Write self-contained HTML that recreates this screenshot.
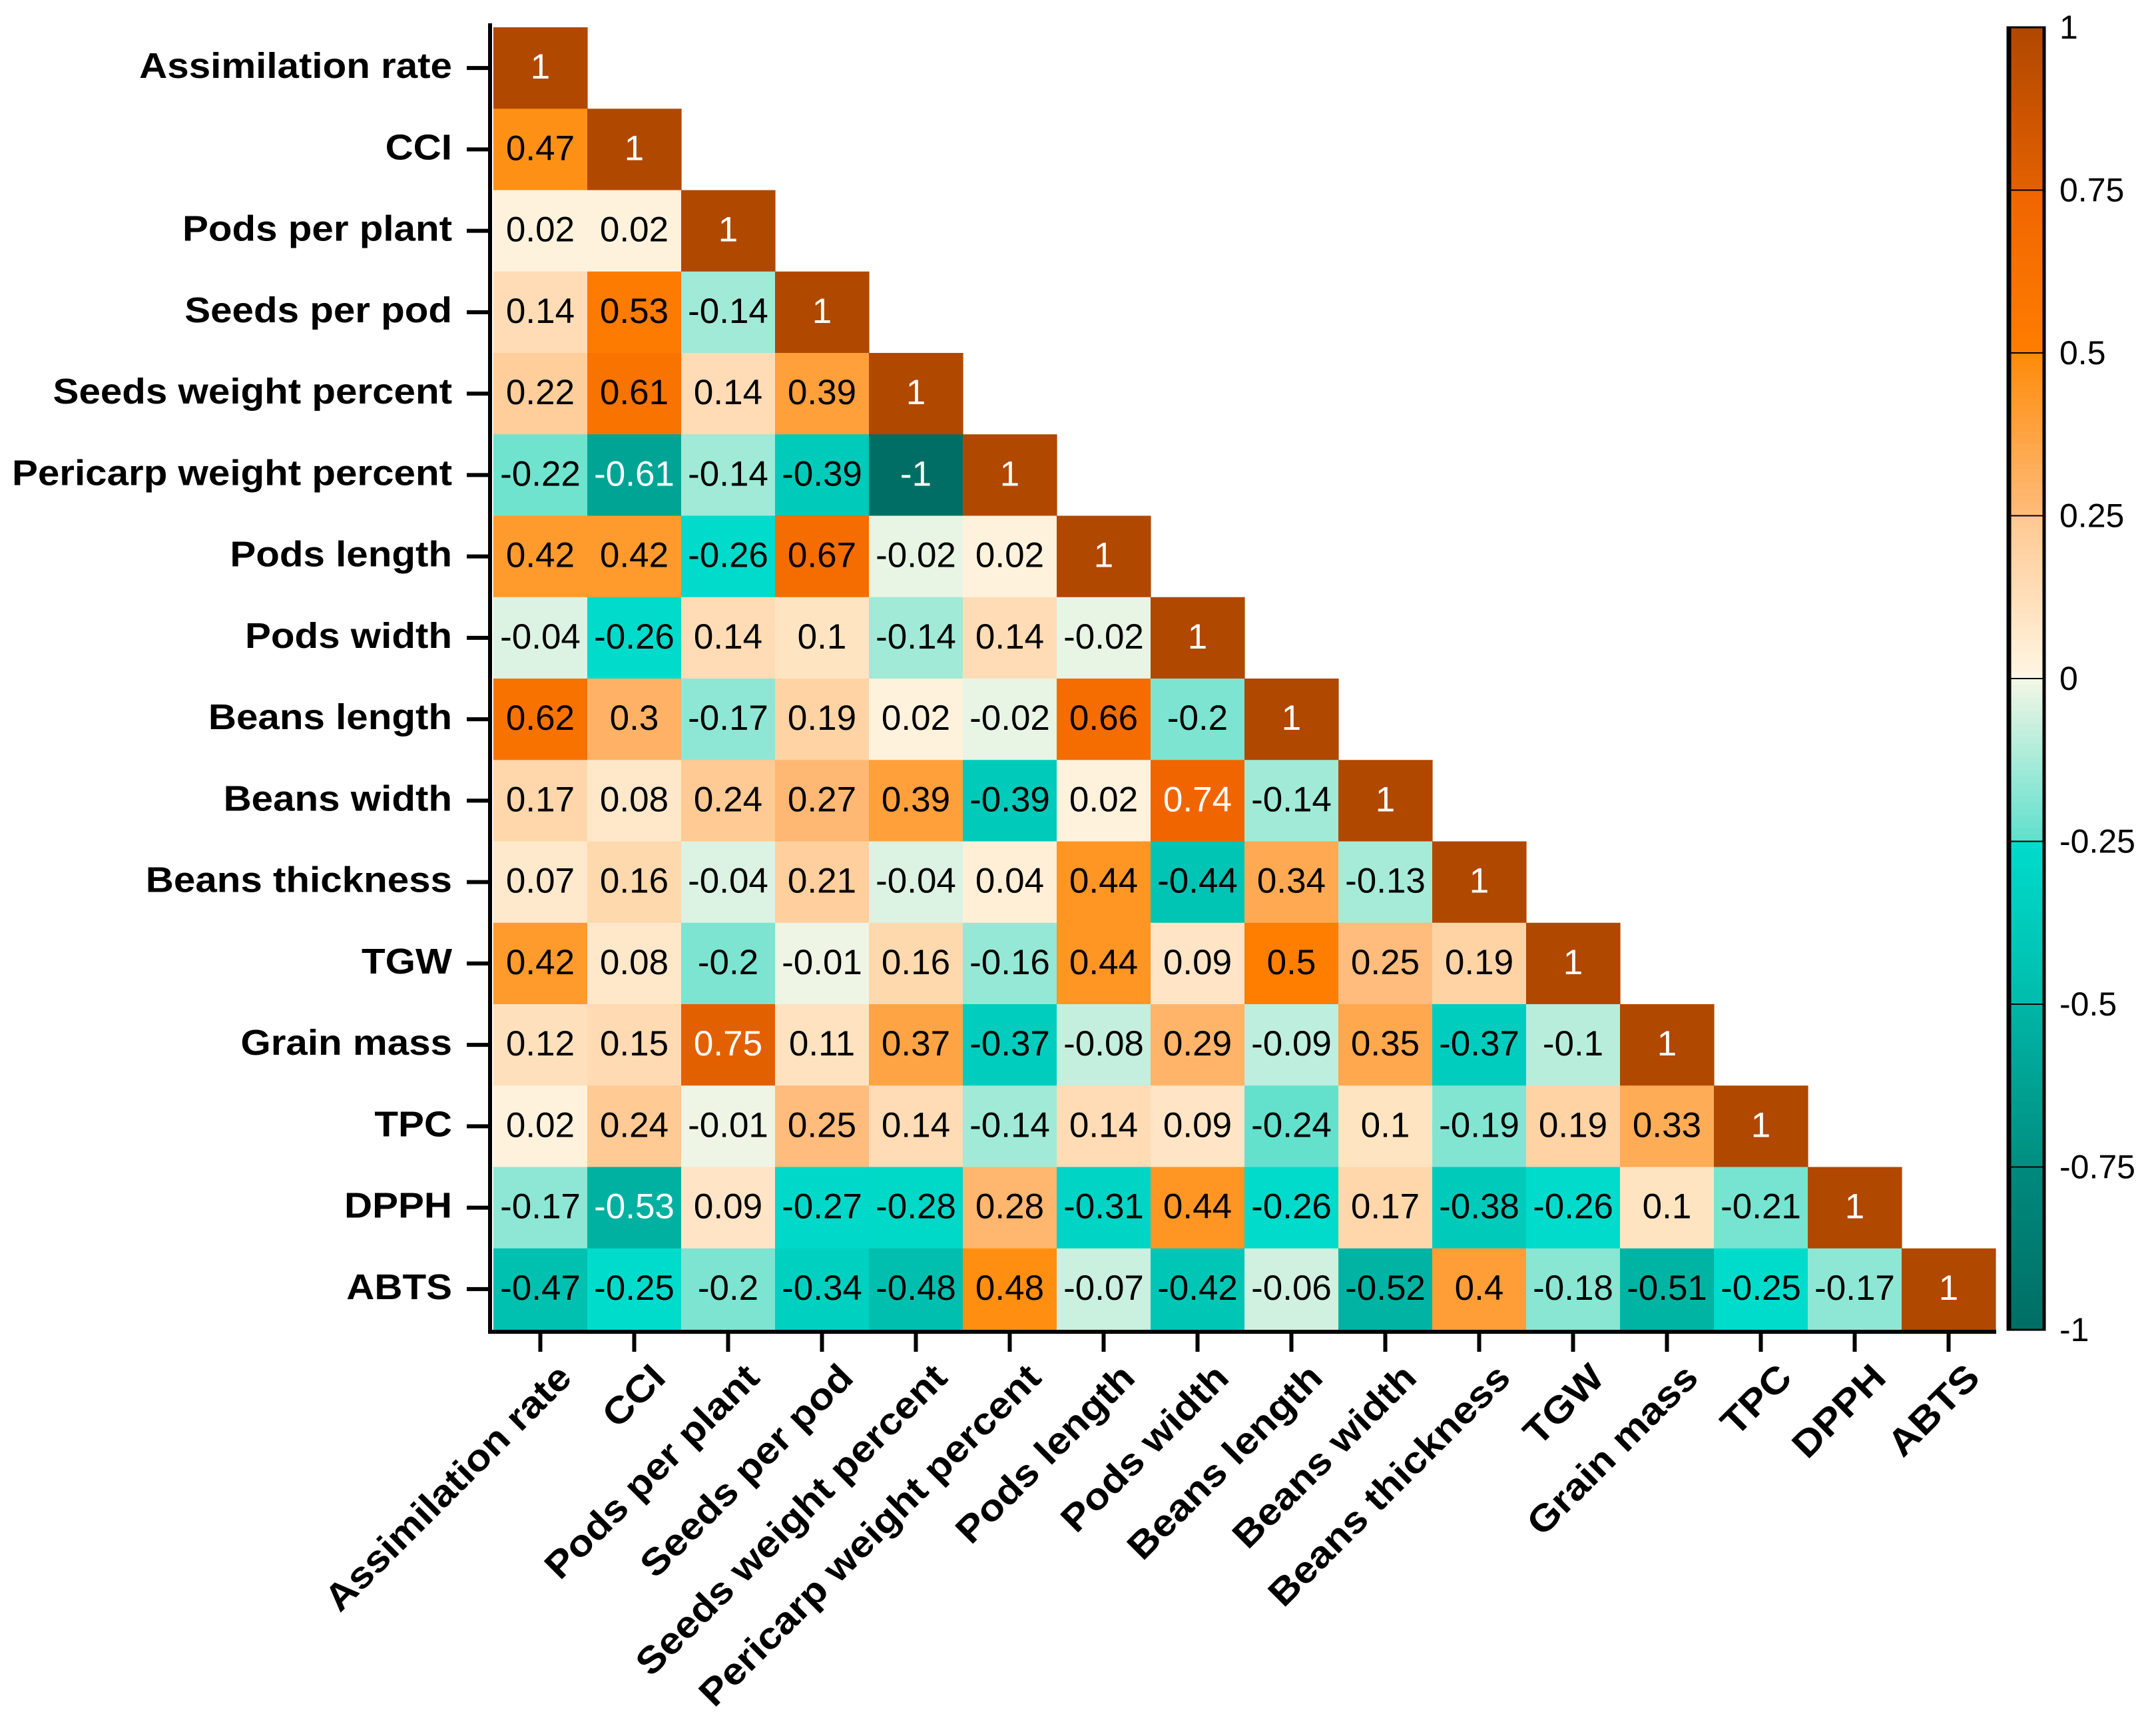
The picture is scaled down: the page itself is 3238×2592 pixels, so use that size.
<!DOCTYPE html>
<html><head><meta charset="utf-8"><style>
html,body{margin:0;padding:0;background:#fff;}
svg{display:block;font-family:"Liberation Sans",Arial,sans-serif;}
</style></head><body>
<svg id="chart" width="3238" height="2592" viewBox="0 0 3238 2592" xmlns="http://www.w3.org/2000/svg">
<g id="cells"></g>
<g id="axes"></g>
<g id="cbar"></g>
</svg>
<script>
const labels = ["Assimilation rate","CCI","Pods per plant","Seeds per pod","Seeds weight percent","Pericarp weight percent","Pods length","Pods width","Beans length","Beans width","Beans thickness","TGW","Grain mass","TPC","DPPH","ABTS"];
const row0 = [1];
const row1 = [0.47,1];
const row2 = [0.02,0.02,1];
const row3 = [0.14,0.53,-0.14,1];
const row4 = [0.22,0.61,0.14,0.39,1];
const row5 = [-0.22,-0.61,-0.14,-0.39,-1,1];
const row6 = [0.42,0.42,-0.26,0.67,-0.02,0.02,1];
const row7 = [-0.04,-0.26,0.14,0.1,-0.14,0.14,-0.02,1];
const row8 = [0.62,0.3,-0.17,0.19,0.02,-0.02,0.66,-0.2,1];
const row9 = [0.17,0.08,0.24,0.27,0.39,-0.39,0.02,0.74,-0.14,1];
const row10 = [0.07,0.16,-0.04,0.21,-0.04,0.04,0.44,-0.44,0.34,-0.13,1];
const row11 = [0.42,0.08,-0.2,-0.01,0.16,-0.16,0.44,0.09,0.5,0.25,0.19,1];
const row12 = [0.12,0.15,0.75,0.11,0.37,-0.37,-0.08,0.29,-0.09,0.35,-0.37,-0.1,1];
const row13 = [0.02,0.24,-0.01,0.25,0.14,-0.14,0.14,0.09,-0.24,0.1,-0.19,0.19,0.33,1];
const row14 = [-0.17,-0.53,0.09,-0.27,-0.28,0.28,-0.31,0.44,-0.26,0.17,-0.38,-0.26,0.1,-0.21,1];
const row15 = [-0.47,-0.25,-0.2,-0.34,-0.48,0.48,-0.07,-0.42,-0.06,-0.52,0.4,-0.18,-0.51,-0.25,-0.17,1];
const rows = [row0,row1,row2,row3,row4,row5,row6,row7,row8,row9,row10,row11,row12,row13,row14,row15];
const cbarTicks = [1,0.75,0.5,0.25,0,-0.25,-0.5,-0.75,-1];

const NS="http://www.w3.org/2000/svg";
const X0=741, CW=141, Y0=41, CH=122.25;
const xAt = i => X0 + i*CW;
const yAt = i => Y0 + i*CH;
const segs = [
 [0.75,1.0,"#e36000","#b04800"],
 [0.5,0.75,"#ff7e00","#f06400"],
 [0.25,0.5,"#ffbc7c","#ff8a08"],
 [0,0.25,"#fff6e4","#ffc890"],
 [-0.5,-0.25,"#00bcac","#00dccc"],
 [-0.25,0,"#5ee0cc","#f4f6e6"],
 [-0.75,-0.5,"#008e80","#00b6a6"],
 [-1,-0.75,"#006e64","#008a7e"]
];
function hex(c){return [1,3,5].map(i=>parseInt(c.substr(i,2),16));}
function color(v){
  for(const s of segs){
    if(v>=s[0]-1e-9 && v<=s[1]+1e-9){
      const t=(v-s[0])/(s[1]-s[0]);const a=hex(s[2]),b=hex(s[3]);
      return "rgb("+a.map((x,k)=>Math.round(x+(b[k]-x)*t)).join(",")+")";
    }
  }
  return "#fff";
}
function mk(tag,attrs,parent){const e=document.createElementNS(NS,tag);for(const k in attrs)e.setAttribute(k,attrs[k]);parent.appendChild(e);return e;}
const gc=document.getElementById("cells");
rows.forEach((r,i)=>{
  r.forEach((v,j)=>{
    const rect=mk("rect",{x:xAt(j),y:yAt(i),width:CW+0.6,height:CH+0.6,fill:color(v)},gc);
    
    
    const white = v>=0.7 || v<=-0.53;
    const t=mk("text",{x:xAt(j)+CW/2,y:yAt(i)+CH/2+16,"text-anchor":"middle","font-size":53,fill:white?"#fff":"#000"},gc);
    
    
    t.textContent=String(v);
  });
});
const ga=document.getElementById("axes");
const la=mk("line",{x1:736,y1:35,x2:736,y2:2003,stroke:"#000","stroke-width":6},ga);


const ba=mk("line",{x1:733,y1:2000,x2:2998,y2:2000,stroke:"#000","stroke-width":6},ga);


labels.forEach((l,i)=>{
  const cy=yAt(i)+CH/2;
  const tk=mk("line",{x1:701,y1:cy,x2:736,y2:cy,stroke:"#000","stroke-width":6},ga);
  
  
  const t=mk("text",{x:679,y:cy+15,"text-anchor":"end","font-size":54,"font-weight":"bold",fill:"#000",transform:"translate(679 0) scale(1.08 1) translate(-679 0)"},ga);
  
  
  t.textContent=l;
  const cx=xAt(i)+CW/2;
  const xt=mk("line",{x1:cx,y1:2000,x2:cx,y2:2030,stroke:"#000","stroke-width":6},ga);
  
  
  const ax=cx+50, ay=2072;
  const x=mk("text",{x:ax,y:ay,"text-anchor":"end","font-size":56,"font-weight":"bold",fill:"#000",transform:"translate("+ax+" "+ay+") rotate(-45) scale(1.1 1) translate("+(-ax)+" "+(-ay)+")"},ga);
  
  
  x.textContent=l;
});
const gb=document.getElementById("cbar");
const BX=3015, BW=56, BT=41, BB=1997;
const cy = v => BT + (1-v)/2*(BB-BT);
const N=200;
for(let k=0;k<N;k++){
  const v1=1-2*k/N, v2=1-2*(k+1)/N, vm=(v1+v2)/2;
  const r=mk("rect",{x:BX,y:cy(v1),width:BW,height:cy(v2)-cy(v1)+0.8,fill:color(vm)},gb);
  
  
}
const frame=mk("rect",{x:BX,y:BT,width:BW,height:BB-BT,fill:"none",stroke:"#000","stroke-width":3},gb);


const lb=mk("line",{x1:BX+2,y1:BT,x2:BX+2,y2:BB,stroke:"#000","stroke-width":7},gb);


const rb=mk("line",{x1:BX+BW-1,y1:BT,x2:BX+BW-1,y2:BB,stroke:"#000","stroke-width":5},gb);


cbarTicks.forEach(v=>{
  if(v<1 && v>-1){
    const s=mk("line",{x1:BX,y1:cy(v),x2:BX+BW,y2:cy(v),stroke:"#000","stroke-width":2},gb);
    
    
  }
  const t=mk("text",{x:3093,y:cy(v)+17,"font-size":50,fill:"#000"},gb);
  
  
  t.textContent=v<0?"-"+String(-v):String(v);
});
</script>
</body></html>
